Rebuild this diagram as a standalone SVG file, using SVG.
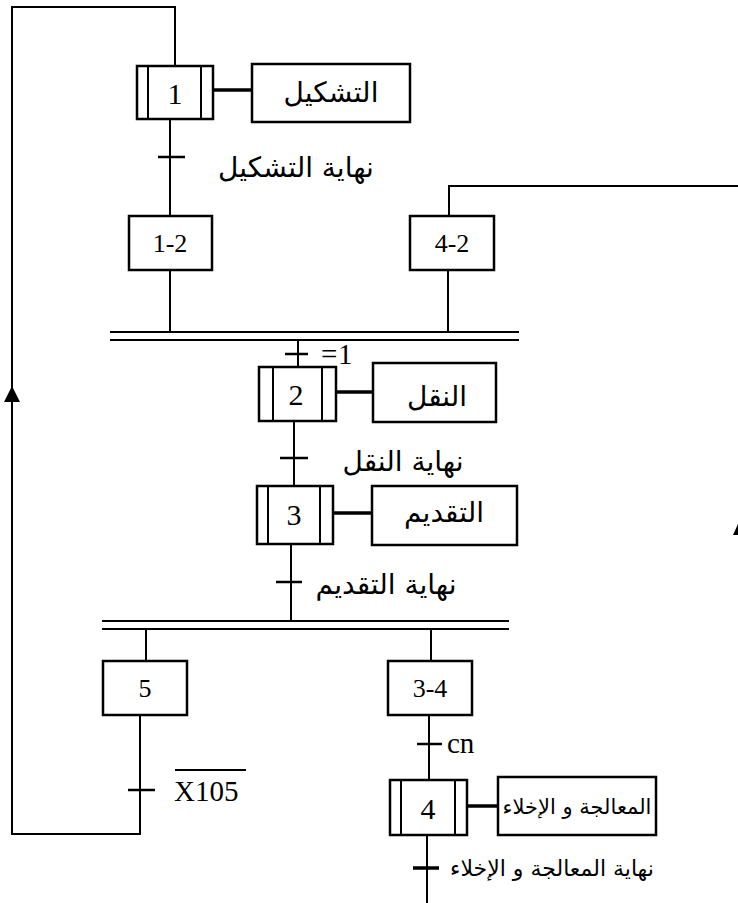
<svg xmlns="http://www.w3.org/2000/svg" width="738" height="903" viewBox="0 0 738 903">
<style>
.ln{stroke:#000;stroke-width:2;fill:none}
.tk{stroke:#000;stroke-width:2.5;fill:none}
.lk{stroke:#000;stroke-width:3.5;fill:none}
.bx{stroke:#000;stroke-width:2.5;fill:#fff}
.num{font-family:"Liberation Serif",serif;font-size:30px;text-anchor:middle;fill:#000}
.lbl{font-family:"Liberation Serif",serif;font-size:26px;text-anchor:middle;fill:#000}
.lat{font-family:"Liberation Serif",serif;font-size:29px;fill:#000}
.ar{font-family:"DejaVu Sans","Noto Sans",sans-serif;font-size:28px;text-anchor:middle;fill:#000}
</style>
<rect width="738" height="903" fill="#fff"/>
<g id="connectors">
<polyline class="ln" points="175,66 175,7 12,7 12,834 140,834 140,715"/>
<polygon points="12,386 4,402 20,402" fill="#000"/>
<line class="ln" x1="170" y1="119" x2="170" y2="216"/>
<line class="tk" x1="158" y1="157" x2="185" y2="157"/>
<line class="ln" x1="170" y1="270" x2="170" y2="332"/>
<polyline class="ln" points="738,186 449,186 449,216"/>
<line class="ln" x1="448" y1="270" x2="448" y2="332"/>
<line class="ln" x1="110" y1="332" x2="519" y2="332"/>
<line class="ln" x1="110" y1="340" x2="519" y2="340"/>
<line class="ln" x1="298" y1="340" x2="298" y2="367"/>
<line class="tk" x1="285" y1="354" x2="308" y2="354"/>
<line class="ln" x1="294" y1="421" x2="294" y2="486"/>
<line class="tk" x1="280" y1="458" x2="308" y2="458"/>
<line class="ln" x1="291" y1="544" x2="291" y2="621"/>
<line class="tk" x1="276" y1="582" x2="302" y2="582"/>
<line class="ln" x1="102" y1="621" x2="509" y2="621"/>
<line class="ln" x1="102" y1="629" x2="509" y2="629"/>
<line class="ln" x1="146" y1="629" x2="146" y2="661"/>
<line class="ln" x1="431" y1="629" x2="431" y2="661"/>
<line class="tk" x1="128" y1="790" x2="155" y2="790"/>
<line class="ln" x1="429" y1="715" x2="429" y2="780"/>
<line class="tk" x1="417" y1="744" x2="442" y2="744"/>
<line class="ln" x1="427" y1="835" x2="427" y2="903"/>
<line class="lk" x1="413" y1="868" x2="439" y2="868"/>
<line class="lk" x1="213" y1="90" x2="252" y2="90"/>
<line class="lk" x1="336" y1="392" x2="373" y2="392"/>
<line class="lk" x1="334" y1="513" x2="372" y2="513"/>
<line class="lk" x1="467" y1="806" x2="498" y2="806"/>
<polygon points="733,535 738,524 738,535" fill="#000"/>
</g>
<g id="step1">
<rect class="bx" x="137" y="66" width="76" height="53"/>
<line class="ln" x1="148" y1="66" x2="148" y2="119"/>
<line class="ln" x1="201" y1="66" x2="201" y2="119"/>
<text class="num" x="175" y="104">1</text>
</g>
<g id="action1">
<rect class="bx" x="252" y="64" width="158" height="58"/>
<text class="ar" x="331" y="102">التشكيل</text>
</g>
<text class="ar" x="296" y="177">نهاية  التشكيل</text>
<g id="step12">
<rect class="bx" x="129" y="216" width="83" height="54"/>
<text class="lbl" x="170" y="252">1-2</text>
</g>
<g id="step42">
<rect class="bx" x="410" y="216" width="84" height="54"/>
<text class="lbl" x="452" y="252">4-2</text>
</g>
<text class="lat" y="364"><tspan x="321">=</tspan><tspan x="338">1</tspan></text>
<g id="step2">
<rect class="bx" x="259" y="367" width="77" height="54"/>
<line class="ln" x1="273" y1="367" x2="273" y2="421"/>
<line class="ln" x1="322" y1="367" x2="322" y2="421"/>
<text class="num" x="296" y="405">2</text>
</g>
<g id="action2">
<rect class="bx" x="373" y="363" width="123" height="59"/>
<text class="ar" x="437" y="406">النقل</text>
</g>
<text class="ar" x="403" y="471">نهاية النقل</text>
<g id="step3">
<rect class="bx" x="257" y="486" width="76" height="58"/>
<line class="ln" x1="268" y1="486" x2="268" y2="544"/>
<line class="ln" x1="320" y1="486" x2="320" y2="544"/>
<text class="num" x="294" y="525">3</text>
</g>
<g id="action3">
<rect class="bx" x="372" y="486" width="145" height="59"/>
<text class="ar" x="444" y="522">التقديم</text>
</g>
<text class="ar" x="386" y="594">نهاية التقديم</text>
<g id="step5">
<rect class="bx" x="103" y="661" width="84" height="54"/>
<text class="lbl" x="145" y="697">5</text>
</g>
<g id="step34">
<rect class="bx" x="388" y="661" width="84" height="54"/>
<text class="lbl" x="430" y="697">3-4</text>
</g>
<line class="ln" x1="175" y1="770" x2="246" y2="770"/>
<text class="lat" x="174" y="801">X105</text>
<text class="lat" x="447" y="753">cn</text>
<g id="step4">
<rect class="bx" x="390" y="780" width="77" height="55"/>
<line class="ln" x1="401" y1="780" x2="401" y2="835"/>
<line class="ln" x1="455" y1="780" x2="455" y2="835"/>
<text class="num" x="428" y="819">4</text>
</g>
<g id="action4">
<rect class="bx" x="498" y="777" width="158" height="58"/>
<text class="ar" x="577" y="814" style="font-size:21px">المعالجة و الإخلاء</text>
</g>
<text class="ar" x="552" y="876" style="font-size:22px">نهاية المعالجة و الإخلاء</text>
</svg>
